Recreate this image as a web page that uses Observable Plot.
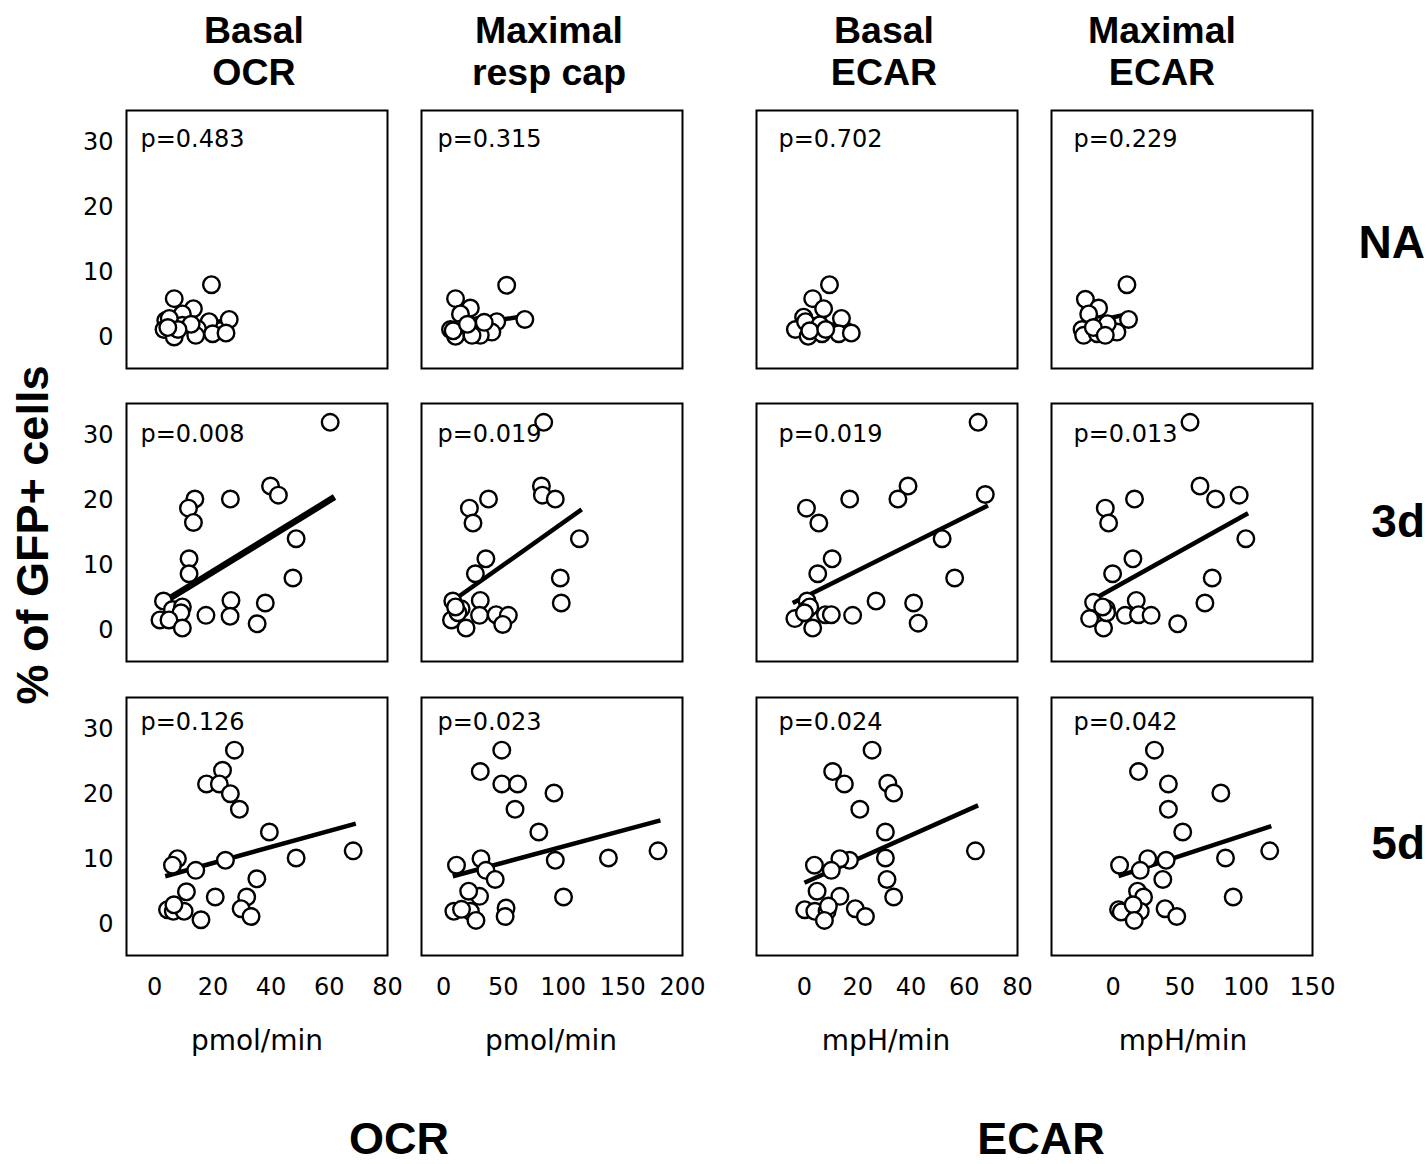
<!DOCTYPE html>
<html>
<head>
<meta charset="utf-8">
<script src="https://cdn.jsdelivr.net/npm/d3@7"></script>
<script src="https://cdn.jsdelivr.net/npm/@observablehq/plot@0.6"></script>
<style>
  body { margin: 0; background: #fff; }
  #root { position: relative; width: 1427px; height: 1164px; overflow: hidden; background: #fff; font-family: "Liberation Sans", Arial, sans-serif; color: #000; }
  .lbl { position: absolute; white-space: nowrap; color: #000; }
  .ctitle { font-weight: bold; font-size: 37.5px; line-height: 38px; text-align: center; transform: translate(-50%, -50%); }
  .big { font-weight: bold; font-size: 45px; line-height: 40px; transform: translate(-50%, -50%); }
  .row { font-weight: bold; font-size: 46px; line-height: 46px; transform: translate(0, -50%); right: 2px; }
  .unit { font-family: "DejaVu Sans", sans-serif; font-size: 28px; line-height: 28px; transform: translate(-50%, -50%); }
  .panel { position: absolute; }
  .panel svg { overflow: visible; max-width: none; }
</style>
</head>
<body>
<div id="root"></div>
<script>
// ---- categories / labels ----
const rowNames = ["NA", "3d", "5d"];
const colTitles = [["Basal", "OCR"], ["Maximal", "resp cap"], ["Basal", "ECAR"], ["Maximal", "ECAR"]];
const unitLabels = ["pmol/min", "pmol/min", "mpH/min", "mpH/min"];
const groupLabels = ["OCR", "ECAR"];
const yTitle = "% of GFP+ cells";

// ---- tick labels ----
const yTicks = [0, 10, 20, 30];
const xTicks = [[0, 20, 40, 60, 80], [0, 50, 100, 150, 200], [0, 20, 40, 60, 80], [0, 50, 100, 150]];
const yDomain = [-4.8, 34.9];
const xDomains = [[-9.7, 80], [-18.5, 200], [-18, 80], [-46.5, 150]];

// ---- p-values ----
const pNA = ["0.483", "0.315", "0.702", "0.229"];
const p3d = ["0.008", "0.019", "0.019", "0.013"];
const p5d = ["0.126", "0.023", "0.024", "0.042"];

// ---- points [x, y] ----
const naBasalOCR = [[19.5,8.1],[6.7,5.95],[13.3,4.4],[9.5,3.6],[25.6,2.75],[3.8,2.6],[18.7,2.4],[9.5,1.85],[14.7,1.3],[3.2,1.2],[19.9,0.55],[24.5,0.65],[6.7,0.05],[14.1,0.3],[5.0,2.9],[12.5,2.0],[8,1.2],[4.5,1.5]];
const naMaxResp = [[52.8,8.0],[10.0,5.95],[22.4,4.5],[14.1,3.6],[68.0,2.75],[44.5,2.4],[29.3,1.85],[5.8,1.2],[12.7,1.2],[40.4,0.8],[30.7,0.3],[10.0,0.15],[23.8,0.3],[34,2.3],[8,1.0],[20,2.0]];
const naBasalECAR = [[9.4,8.1],[3.1,5.95],[7.2,4.4],[-0.3,3.1],[13.9,2.9],[-3.4,1.2],[4.5,1.75],[1.4,0.15],[6.6,0.55],[12.9,0.55],[17.6,0.65],[0.4,2.4],[5.8,1.9],[2,1.0],[8,1.2]];
const naMaxECAR = [[10.3,8.1],[-21,5.85],[-11,4.5],[-18.5,3.6],[11.5,2.75],[-9.75,1.85],[-23.5,1.2],[2.75,0.8],[-22.3,0.3],[-12,0.55],[-8,1.0],[-4.5,2.1],[-15,1.5],[-6,0.3]];

const d3BasalOCR = [[60.3,32.0],[13.8,20.2],[11.6,18.8],[13.3,16.6],[26.0,20.2],[39.8,22.2],[42.5,20.8],[48.6,14.1],[47.5,8.05],[11.8,11.0],[11.8,8.7],[3.0,4.5],[6.1,3.2],[9.5,3.6],[9.0,2.7],[1.8,1.6],[4.9,1.6],[9.5,0.35],[17.6,2.3],[26.2,4.6],[25.9,2.15],[38.0,4.2],[35.2,1.0]];
const d3MaxResp = [[83.8,32.0],[37.6,20.2],[21.6,18.8],[24.6,16.5],[81.9,22.2],[82.7,20.8],[93.5,20.2],[113.7,14.1],[97.7,8.05],[98.5,4.2],[35.4,11.0],[26.6,8.7],[7.7,4.5],[14.7,3.3],[30.7,4.6],[6.6,1.6],[30.1,2.3],[18.8,0.35],[44,2.4],[54.2,2.3],[49.5,0.9],[12,2.7],[10,3.6]];
const d3BasalECAR = [[65.2,32.0],[67.9,20.9],[38.9,22.2],[35.1,20.2],[17.0,20.2],[0.75,18.8],[5.4,16.5],[51.7,14.1],[56.4,8.05],[10.4,11.0],[5.0,8.7],[26.9,4.5],[41.0,4.2],[42.7,1.1],[18.1,2.3],[1.0,4.5],[1.0,3.2],[-3.6,1.8],[3.1,0.35],[7.9,2.4],[10.1,2.4],[2,3.6],[0,2.7]];
const d3MaxECAR = [[57.8,32.0],[65.3,22.2],[77.0,20.2],[94.8,20.8],[16.0,20.2],[-6.0,18.8],[-3.5,16.5],[99.8,14.1],[74.5,8.05],[69.0,4.2],[14.8,11.0],[-0.5,8.7],[-14.8,4.3],[-5.2,3.3],[17.3,4.6],[-17.8,1.8],[-7.3,0.35],[9.0,2.3],[19.0,2.4],[28.5,2.3],[48.5,1.0],[-5,2.7],[-8,3.6]];

const d5BasalOCR = [[27.4,26.8],[23.3,23.7],[17.8,21.6],[22.2,21.6],[26.0,20.1],[29.1,17.7],[39.4,14.2],[68.2,11.3],[48.6,10.2],[24.3,9.85],[7.8,10.1],[6.1,9.1],[14.1,8.3],[35.1,7.0],[10.9,5.0],[20.8,4.2],[31.6,4.2],[4.4,2.25],[6.4,2.0],[10.1,2.0],[6.6,3.0],[29.7,2.4],[33.1,1.2],[15.9,0.7]];
const d5MaxResp = [[48.7,26.8],[30.7,23.5],[48.7,21.6],[62.0,21.6],[92.4,20.2],[59.8,17.7],[79.7,14.2],[179.5,11.3],[138,10.2],[93.5,9.85],[31.3,10.1],[10.8,9.1],[35.4,8.3],[43.2,6.9],[30.1,4.3],[21.0,5.1],[100.4,4.2],[8.6,2.0],[22.4,2.0],[15,2.3],[52.3,2.5],[51.5,1.2],[27.1,0.6]];
const d5BasalECAR = [[25.4,26.8],[10.6,23.5],[15.0,21.6],[31.3,21.7],[33.5,20.2],[20.8,17.7],[30.4,14.2],[64.2,11.3],[30.4,10.2],[16.9,9.85],[13.3,10.1],[3.75,9.1],[10.1,8.3],[31.0,6.9],[4.75,5.1],[13.3,4.3],[33.5,4.2],[0.1,2.25],[3.9,2.0],[8.5,2.0],[9,2.8],[19.1,2.4],[22.9,1.2],[7.5,0.6]];
const d5MaxECAR = [[31.0,26.8],[19.0,23.5],[41.5,21.6],[81.0,20.2],[41.5,17.7],[52.3,14.2],[117.8,11.3],[84.5,10.2],[39.8,9.85],[26.0,10.1],[4.75,9.1],[20.3,8.3],[37.3,6.9],[18.3,5.1],[22.8,4.2],[90.3,4.2],[4.0,2.25],[6.0,1.9],[20.3,2.0],[15,3.0],[39.0,2.4],[47.8,1.2],[15.8,0.6]];

// ---- regression line end points [x1, y1, x2, y2] ----
const fitNA = [[3.2,1.6,25.6,2.6],[5.8,1.4,68,3.3],[-3.4,2.0,17.6,1.9],[-23.5,2.0,11.5,3.6]];
const fit3d = [[5.5,5.0,61.8,20.5],[12.7,5.2,115.6,18.6],[-4.4,4.2,68.9,19.2],[-11,5.2,101.5,18.0]];
const fit5d = [[3.6,7.4,69.1,15.5],[7.7,7.4,181.5,16.0],[0,6.4,65.2,18.3],[4.0,7.4,119,15.1]];

const points = [
  [naBasalOCR, naMaxResp, naBasalECAR, naMaxECAR],
  [d3BasalOCR, d3MaxResp, d3BasalECAR, d3MaxECAR],
  [d5BasalOCR, d5MaxResp, d5BasalECAR, d5MaxECAR]
];
const fits = [fitNA, fit3d, fit5d];
const pvals = [pNA, p3d, p5d];

// ---- layout ----
const root = document.getElementById("root");
const frameLeft = [126, 421, 756, 1051];
const frameTop = [110, 403, 697];
const FW = 261, FH = 258;
const ML = 70, MR = 6, MT = 6, MB = 56;
const pDx = [14, 16, 22, 22];
const pDy = [19, 21, 15];

for (let r = 0; r < 3; r++) {
  for (let c = 0; c < 4; c++) {
    const pts = points[r][c].map(([x, y]) => ({x, y}));
    const [x1, y1, x2, y2] = fits[r][c];
    const lw = (r === 1 && c === 0) ? 6.5 : 4.5;
    const svg = Plot.plot({
      width: FW + ML + MR,
      height: FH + MT + MB,
      marginLeft: ML, marginRight: MR, marginTop: MT, marginBottom: MB,
      style: {background: "transparent", fontFamily: "DejaVu Sans, sans-serif", fontSize: "24px", color: "black", overflow: "visible"},
      x: {domain: xDomains[c], ticks: xTicks[c], tickSize: 0, tickPadding: 22, label: null, axis: r === 2 ? "bottom" : null},
      y: {domain: yDomain, ticks: yTicks, tickSize: 0, tickPadding: 13, label: null, axis: c === 0 ? "left" : null},
      marks: [
        Plot.link([{x1, y1, x2, y2}], {x1: "x1", y1: "y1", x2: "x2", y2: "y2", stroke: "black", strokeWidth: lw, strokeLinecap: "butt"}),
        Plot.dot(pts, {x: "x", y: "y", r: 8.3, fill: "white", stroke: "black", strokeWidth: 2.4}),
        Plot.text(["p=" + pvals[r][c]], {text: d => d, frameAnchor: "top-left", dx: pDx[c], dy: pDy[r], textAnchor: "start", lineAnchor: "top", fontSize: 24, fill: "black"}),
        Plot.frame({stroke: "black", strokeWidth: 2})
      ]
    });
    const wrap = document.createElement("div");
    wrap.className = "panel";
    wrap.style.left = (frameLeft[c] - ML) + "px";
    wrap.style.top = (frameTop[r] - MT) + "px";
    wrap.appendChild(svg);
    root.appendChild(wrap);
  }
}

function addLabel(cls, text, x, y) {
  const d = document.createElement("div");
  d.className = "lbl " + cls;
  d.textContent = text;
  if (x !== null) d.style.left = x + "px";
  d.style.top = y + "px";
  root.appendChild(d);
  return d;
}

const titleCenters = [254, 549, 884, 1162];
const titleLineY = [30, 72];
colTitles.forEach((t, i) => t.forEach((line, j) => addLabel("ctitle", line, titleCenters[i], titleLineY[j])));

const unitCenters = [257, 551, 886, 1183];
unitLabels.forEach((u, i) => addLabel("unit", u, unitCenters[i], 1041));

const rowCenters = [242, 521, 843];
rowNames.forEach((n, i) => addLabel("row", n, null, rowCenters[i]));

const groupCenters = [399, 1041];
groupLabels.forEach((g, i) => addLabel("big", g, groupCenters[i], 1139));

const yt = addLabel("big", yTitle, 33, 535);
yt.style.transform = "translate(-50%, -50%) rotate(-90deg)";
</script>
</body>
</html>
